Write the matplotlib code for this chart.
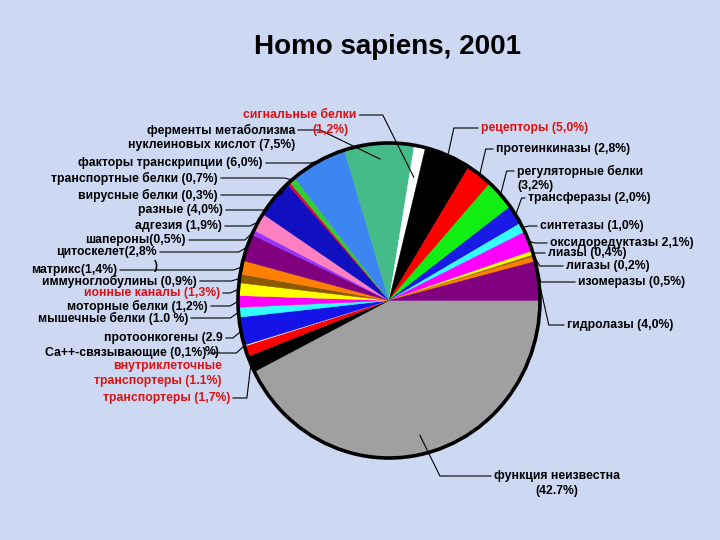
import numpy as np
import matplotlib
matplotlib.use("Agg")
import matplotlib.pyplot as plt
from matplotlib.patches import Circle

plt.rcParams['font.family'] = ['Liberation Sans', 'DejaVu Sans']

title = "Homo sapiens, 2001"

# shares of the human proteome, clockwise from 3 o'clock
shares = [42.7, 1.7, 1.1, 0.1, 2.9, 1.0, 1.2, 1.3, 0.9, 1.4, 2.8, 0.5, 1.9, 4.0,
          0.3, 0.7, 6.0, 7.5, 1.2, 5.0, 2.8, 3.2, 2.0, 1.0, 2.1, 0.4, 0.2, 0.5, 4.0]

labels = ["функция неизвестна\n(42.7%)",
          "транспортеры (1,7%)",
          "внутриклеточные\nтранспортеры (1.1%)",
          "Са++-связывающие (0,1%)",
          "протоонкогены (2.9",
          "мышечные белки (1.0 %)",
          "моторные белки (1,2%)",
          "ионные каналы (1,3%)",
          "иммуноглобулины (0,9%)",
          "матрикс(1,4%)",
          "цитоскелет(2,8%",
          "шапероны(0,5%)",
          "адгезия (1,9%)",
          "разные (4,0%)",
          "вирусные белки (0,3%)",
          "транспортные белки (0,7%)",
          "факторы транскрипции (6,0%)",
          "ферменты метаболизма\nнуклеиновых кислот (7,5%)",
          "сигнальные белки",
          "рецепторы (5,0%)",
          "протеинкиназы (2,8%)",
          "регуляторные белки\n(3,2%)",
          "трансферазы (2,0%)",
          "синтетазы (1,0%)",
          "оксидоредуктазы 2,1%)",
          "лиазы (0,4%)",
          "лигазы (0,2%)",
          "изомеразы (0,5%)",
          "гидролазы (4,0%)"]

# leftover fragments of wrapped labels
extra_texts = ["(1,2%)", ")", "%)"]

colors = ['#a0a0a0', '#000000', '#ff0000', '#ffffff', '#1414e6', '#33ffff',
          '#ff00ff', '#ffff00', '#8b5a00', '#ff8000', '#800080', '#9933ff',
          '#ff80c0', '#1010c0', '#e00040', '#33cc33', '#3d85f0', '#44bb88',
          '#ffffff', '#000000', '#ff0000', '#11ee11', '#1a1ae6', '#33ffff',
          '#ff00ff', '#ffff00', '#996600', '#ff8000', '#800080']

red_text = {1, 2, 7, 18, 19}
RED = '#dd1111'

# label layout in pixels from top-left: x, y, ha, side of leader (+1 right, -1 left, 0 none), anchor radius, bend offset
layout = [(557, 476, 'center', -1, 0.88, 20),
          (230, 398, 'right', 1, 1.0, 4),
          (222, 366, 'right', 0, 1.0, 8),
          (206, 353, 'right', 1, 1.0, 8),
          (223, 338, 'right', 1, 1.0, 8),
          (188, 318, 'right', 1, 1.0, 8),
          (208, 306, 'right', 1, 1.0, 8),
          (220, 293, 'right', 1, 1.0, 8),
          (197, 281, 'right', 1, 1.0, 8),
          (117, 270, 'right', 1, 1.0, 8),
          (157, 252, 'right', 1, 1.0, 8),
          (186, 240, 'right', 1, 1.0, 8),
          (222, 226, 'right', 1, 1.0, 8),
          (223, 210, 'right', 1, 1.0, 8),
          (218, 195, 'right', 1, 1.0, 8),
          (218, 178, 'right', 1, 1.0, 8),
          (263, 163, 'right', 1, 1.0, 8),
          (295, 130, 'right', 1, 0.9, 60),
          (300, 115, 'center', 1, 0.8, 31),
          (481, 128, 'left', -1, 1.0, 6),
          (496, 149, 'left', -1, 1.0, 6),
          (517, 171, 'left', -1, 1.0, 6),
          (528, 198, 'left', -1, 1.0, 6),
          (540, 226, 'left', -1, 1.0, 6),
          (550, 243, 'left', -1, 1.0, 6),
          (548, 253, 'left', -1, 1.0, 6),
          (566, 266, 'left', -1, 1.0, 6),
          (578, 282, 'left', -1, 1.0, 6),
          (567, 325, 'left', -1, 1.0, 10)]
extra_layout = [(330, 130, 'center', RED), (155, 266, 'center', 'black'), (220, 352, 'right', 'black')]

W, H = 720, 540
fig = plt.figure(figsize=(7.2, 5.4), dpi=100)
fig.patch.set_facecolor('#cdd9f3')

# pie in its own axes so it can be slightly taller than wide
axPie = fig.add_axes([238 / W, (H - 458) / H, 302 / W, 315 / H])
wedges, _ = axPie.pie(shares, colors=colors, startangle=0, counterclock=False,
                      wedgeprops={'linewidth': 0.3})
for w in wedges:
    w.set_edgecolor(w.get_facecolor())
axPie.set_aspect('auto')
axPie.set_xlim(-1, 1)
axPie.set_ylim(-1, 1)
axPie.axis('off')
axPie.add_patch(Circle((0, 0), 1, fill=False, lw=2.6, ec='black', clip_on=False))

# overlay axes in pixel coordinates for text and leader lines
ax = fig.add_axes([0, 0, 1, 1])
ax.set_xlim(0, W)
ax.set_ylim(H, 0)
ax.axis('off')

ax.text(387, 47, title, ha='center', va='center', fontsize=20, fontweight='bold')

fs = 8.8
renderer = fig.canvas.get_renderer()
toPix = ax.transData.inverted()

for i, (w, lab) in enumerate(zip(wedges, labels)):
    x, y, ha, side, r, dx = layout[i]
    col = RED if i in red_text else 'black'
    first = None
    for k, line in enumerate(lab.split('\n')):
        t = ax.text(x, y + 15 * k, line, ha=ha, va='center', fontsize=fs,
                    fontweight='bold', color=col)
        if first is None:
            first = t
    if side == 0:
        continue
    bb = first.get_window_extent(renderer)
    (x0, _), (x1, _) = toPix.transform([[bb.x0, bb.y0], [bb.x1, bb.y1]])
    ang = np.deg2rad((w.theta1 + w.theta2) / 2)
    anchor = axPie.transData.transform((r * np.cos(ang), r * np.sin(ang)))
    axx, axy = toPix.transform(anchor)
    if side > 0:
        start = max(x0, x1) + 3
        bend = max(start, axx - dx)
    else:
        start = min(x0, x1) - 3
        bend = min(start, axx + dx)
    ax.plot([start, bend, axx], [y, y, axy], color='black', lw=0.8)

for txt, (x, y, ha, col) in zip(extra_texts, extra_layout):
    ax.text(x, y, txt, ha=ha, va='center', fontsize=fs, fontweight='bold', color=col)

fig.savefig('out.png', dpi=100, facecolor=fig.get_facecolor())
